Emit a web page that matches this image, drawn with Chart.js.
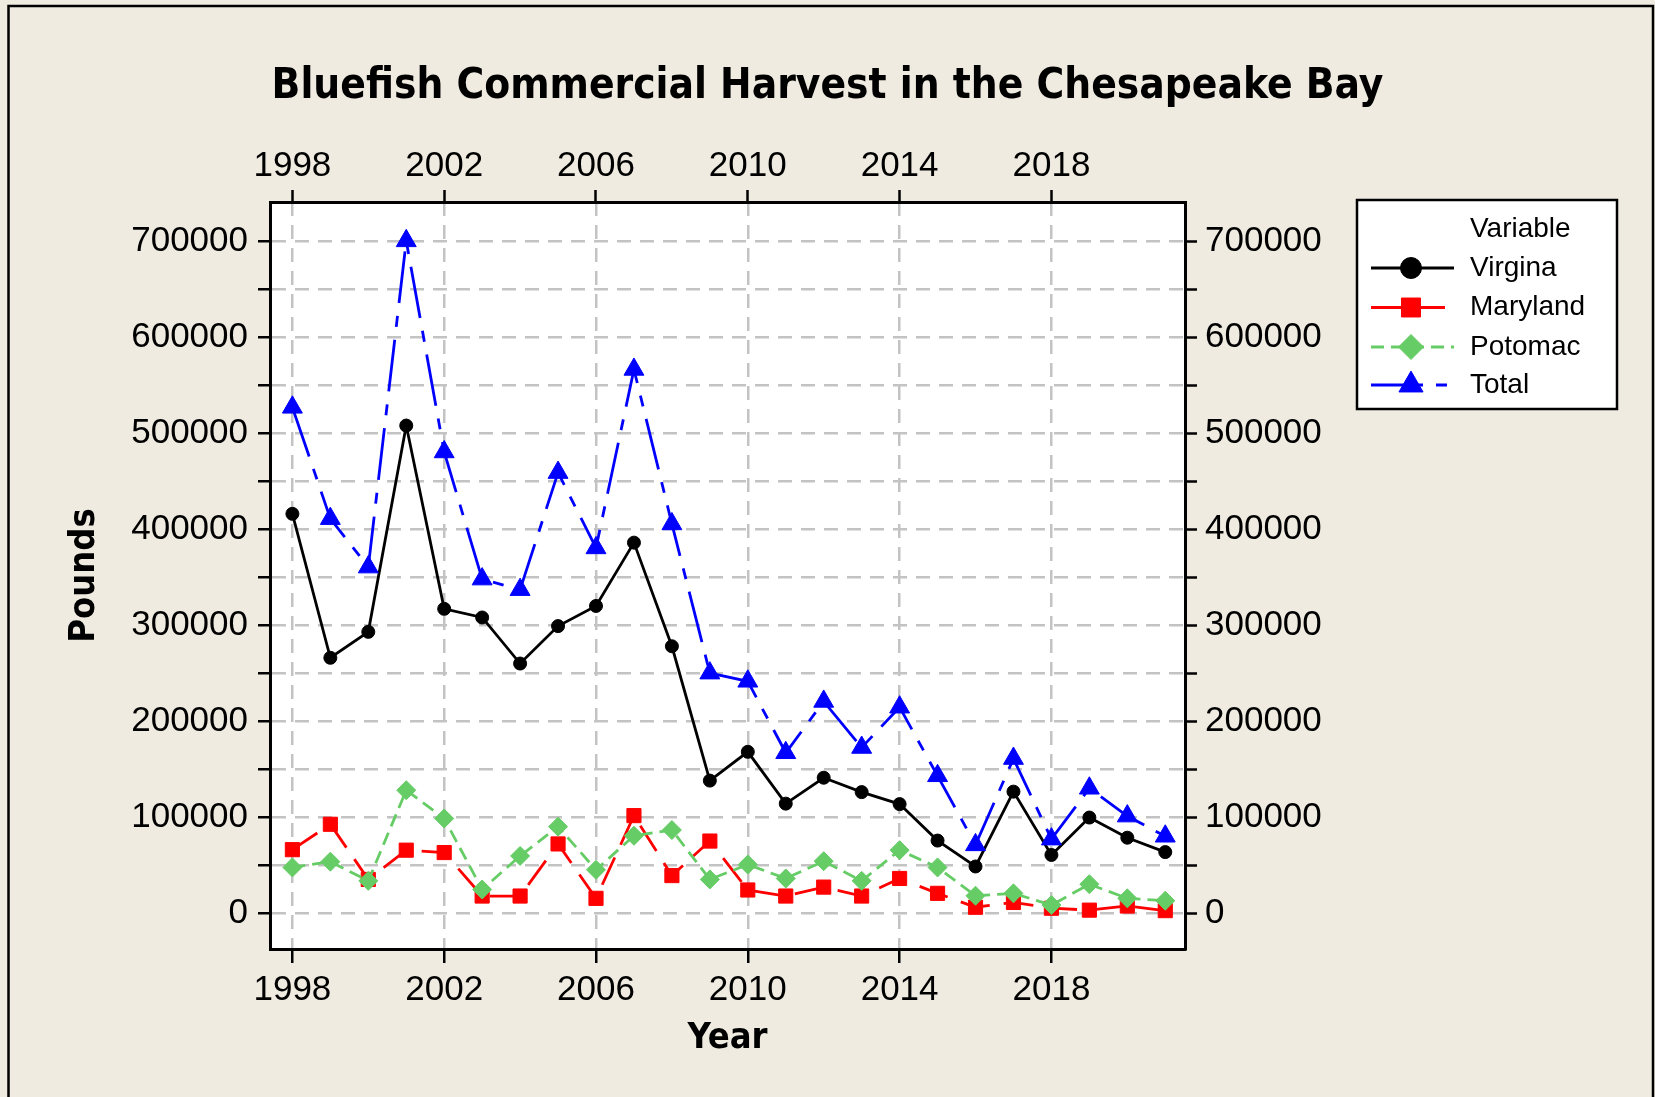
<!DOCTYPE html>
<html>
<head>
<meta charset="utf-8">
<script src="https://cdn.jsdelivr.net/npm/chart.js@4.4.0/dist/chart.umd.min.js"></script>
<style>
  html, body { margin: 0; padding: 0; background: #EFEBE0; overflow: hidden; }
  canvas { display: block; }
</style>
</head>
<body>
<canvas id="c" width="1655" height="1097"></canvas>
<script>
// ---- data ----
const years = [1998,1999,2000,2001,2002,2003,2004,2005,2006,2007,2008,2009,2010,2011,2012,2013,2014,2015,2016,2017,2018,2019,2020,2021];
const virgina  = [416000,266000,293000,508000,317000,308000,260000,299000,320000,386000,278000,138000,168000,114000,141000,126000,113500,75500,48500,126500,60500,99500,78500,63500];
const maryland = [66000,92500,35000,65500,63000,17700,17700,72000,15300,101500,39000,75000,24000,17700,27000,17700,36000,20500,6000,11000,5000,3000,7300,2500];
const potomac  = [47500,53500,33500,128000,98500,24500,59500,90000,45000,80500,86500,35000,50500,36000,54000,33500,65500,47500,18000,20500,8300,30000,15300,12800];
const total    = [527000,411000,360500,700500,480500,348000,337000,459000,380500,566500,405500,250000,241500,167000,220500,172500,214500,143000,71000,161000,77000,130000,101000,80000];
const seriesNames = ['Virgina','Maryland','Potomac','Total'];
const yearTicks = [1998,2002,2006,2010,2014,2018];
const poundTicks = [0,50000,100000,150000,200000,250000,300000,350000,400000,450000,500000,550000,600000,650000,700000];
const titleText = 'Bluefish Commercial Harvest in the Chesapeake Bay';
const xTitle = 'Year';
const yTitle = 'Pounds';
const legendTitle = 'Variable';

// ---- layout / style ----
const W = 1655, H = 1097;
const AREA = {left: 270, right: 1185, top: 202, bottom: 949};
const TITLE_SIZE = 42, TITLE_PAD = 62;
const TICK_FONT = {family: "'Liberation Sans', Arial, sans-serif", size: 35};
const AXIS_TITLE_FONT = {family: "'DejaVu Sans Condensed', 'DejaVu Sans', sans-serif", weight: 'bold', size: 36};
const GRID_COLOR = '#C3C3C3';
const BG = '#EFEBE0';

const toXY = arr => years.map((x, i) => ({x: x, y: arr[i]}));
const setYearTicks = s => { s.ticks = yearTicks.map(v => ({value: v})); };
const setPoundTicks = s => { s.ticks = poundTicks.map(v => ({value: v})); };
const poundLabel = v => (v % 100000 === 0 ? String(v) : '');

const legendMarker = [10.5, 13.4, 12.5, 13.9];

const bgPlugin = {
  id: 'bg',
  beforeDraw(chart) {
    const {ctx, chartArea} = chart;
    ctx.save();
    ctx.fillStyle = BG;
    ctx.fillRect(0, 0, W, H);
    ctx.fillStyle = '#FFFFFF';
    ctx.fillRect(chartArea.left, chartArea.top, chartArea.right - chartArea.left, chartArea.bottom - chartArea.top);
    ctx.strokeStyle = '#000';
    ctx.lineWidth = 2.5;
    ctx.beginPath();
    ctx.moveTo(8.5, H); ctx.lineTo(8.5, 6); ctx.lineTo(1653, 6); ctx.lineTo(1653, H);
    ctx.stroke();
    ctx.restore();
  }
};

const legendPlugin = {
  id: 'customLegend',
  afterDraw(chart) {
    const ctx = chart.ctx;
    const box = {x: 1357, y: 200, w: 260, h: 209};
    ctx.save();
    ctx.fillStyle = '#FFFFFF';
    ctx.fillRect(box.x, box.y, box.w, box.h);
    ctx.strokeStyle = '#000';
    ctx.lineWidth = 2.5;
    ctx.strokeRect(box.x, box.y, box.w, box.h);
    ctx.font = "28px 'Liberation Sans', Arial, sans-serif";
    ctx.fillStyle = '#000';
    ctx.textBaseline = 'middle';
    ctx.textAlign = 'left';
    ctx.fillText(legendTitle, 1470, 229);
    const rowY = [268, 307.5, 347, 385];
    chart.data.datasets.forEach((ds, i) => {
      const y = rowY[i];
      ctx.save();
      ctx.strokeStyle = ds.borderColor;
      ctx.lineWidth = ds.borderWidth;
      ctx.setLineDash(ds.borderDash || []);
      ctx.beginPath();
      ctx.moveTo(1371, y);
      ctx.lineTo(1454, y);
      ctx.stroke();
      ctx.restore();
      ctx.save();
      ctx.fillStyle = ds.pointBackgroundColor;
      ctx.strokeStyle = ds.pointBorderColor;
      ctx.lineWidth = 1;
      Chart.helpers.drawPoint(ctx, {pointStyle: ds.pointStyle, radius: legendMarker[i], rotation: 0, borderWidth: 1}, 1411, y);
      ctx.restore();
      ctx.fillStyle = '#000';
      ctx.fillText(ds.label, 1470, y);
    });
    ctx.restore();
  }
};

const yearAxisBase = {
  type: 'linear', min: 1997.41, max: 2021.52,
  afterBuildTicks: setYearTicks
};
const poundAxisBase = {
  type: 'linear', min: -37500, max: 741000,
  afterBuildTicks: setPoundTicks
};

new Chart(document.getElementById('c'), {
  type: 'line',
  data: {
    datasets: [
      {label: seriesNames[0], data: toXY(virgina), xAxisID: 'x', yAxisID: 'y', order: 2,
       borderColor: '#000000', borderWidth: 2.8, pointStyle: 'circle', pointRadius: 6.5, pointHoverRadius: 6.5,
       pointBackgroundColor: '#000000', pointBorderColor: '#000000', pointBorderWidth: 1},
      {label: seriesNames[1], data: toXY(maryland), xAxisID: 'x', yAxisID: 'y', order: 3,
       borderColor: '#FF0000', borderWidth: 2.8, borderDash: [30, 14], pointStyle: 'rect', pointRadius: 10, pointHoverRadius: 10,
       pointBackgroundColor: '#FF0000', pointBorderColor: '#FF0000', pointBorderWidth: 1},
      {label: seriesNames[2], data: toXY(potomac), xAxisID: 'x', yAxisID: 'y', order: 1,
       borderColor: '#66CC66', borderWidth: 2.8, borderDash: [13, 7], pointStyle: 'rectRot', pointRadius: 9.5, pointHoverRadius: 9.5,
       pointBackgroundColor: '#66CC66', pointBorderColor: '#66CC66', pointBorderWidth: 1},
      {label: seriesNames[3], data: toXY(total), xAxisID: 'x', yAxisID: 'y', order: 0,
       borderColor: '#0000FF', borderWidth: 2.8, borderDash: [52, 13, 11, 13], pointStyle: 'triangle', pointRadius: 11.5, pointHoverRadius: 11.5,
       pointBackgroundColor: '#0000FF', pointBorderColor: '#0000FF', pointBorderWidth: 1}
    ]
  },
  options: {
    responsive: false,
    devicePixelRatio: 1,
    animation: false,
    events: [],
    layout: {padding: 0},
    plugins: {
      legend: {display: false},
      tooltip: {enabled: false},
      title: {
        display: true, text: titleText, color: '#000',
        font: {family: "'DejaVu Sans Condensed', 'DejaVu Sans', sans-serif", weight: 'bold', size: TITLE_SIZE},
        padding: {top: TITLE_PAD, bottom: 0}
      }
    },
    scales: {
      x: Object.assign({}, yearAxisBase, {
        position: 'bottom',
        ticks: {autoSkip: false, maxRotation: 0, font: TICK_FONT, color: '#000', padding: 6, callback: v => String(v)},
        grid: {display: true, drawOnChartArea: true, drawTicks: true, color: GRID_COLOR, lineWidth: 2.5,
               tickLength: 14, tickColor: '#000', tickWidth: 2.5},
        border: {display: true, color: '#000', width: 3, dash: [14, 9]},
        title: {display: true, text: xTitle, color: '#000', font: AXIS_TITLE_FONT, padding: {top: 0, bottom: 37}},
        afterFit: s => { s.height = H - AREA.bottom; }
      }),
      x2: Object.assign({}, yearAxisBase, {
        position: 'top',
        ticks: {autoSkip: false, maxRotation: 0, font: TICK_FONT, color: '#000', padding: 3, callback: v => String(v)},
        grid: {display: true, drawOnChartArea: false, drawTicks: true, color: GRID_COLOR,
               tickLength: 12, tickColor: '#000', tickWidth: 2.5},
        border: {display: true, color: '#000', width: 3},
        afterFit: s => { s.height = AREA.top - (TITLE_PAD + TITLE_SIZE * 1.2); }
      }),
      y: Object.assign({}, poundAxisBase, {
        position: 'left',
        ticks: {autoSkip: false, font: TICK_FONT, color: '#000', padding: 10, callback: poundLabel},
        grid: {display: true, drawOnChartArea: true, drawTicks: true, color: GRID_COLOR, lineWidth: 2.5,
               tickLength: 12, tickColor: '#000', tickWidth: 2.5},
        border: {display: true, color: '#000', width: 3, dash: [14, 9]},
        title: {display: true, text: yTitle, color: '#000', font: AXIS_TITLE_FONT, padding: {top: 63, bottom: 0}},
        afterFit: s => { s.width = AREA.left; }
      }),
      y2: Object.assign({}, poundAxisBase, {
        position: 'right',
        ticks: {autoSkip: false, font: TICK_FONT, color: '#000', padding: 8, callback: poundLabel},
        grid: {display: true, drawOnChartArea: false, drawTicks: true, color: GRID_COLOR,
               tickLength: 12, tickColor: '#000', tickWidth: 2.5},
        border: {display: true, color: '#000', width: 3},
        afterFit: s => { s.width = W - AREA.right; }
      })
    }
  },
  plugins: [bgPlugin, legendPlugin]
});
</script>
</body>
</html>
